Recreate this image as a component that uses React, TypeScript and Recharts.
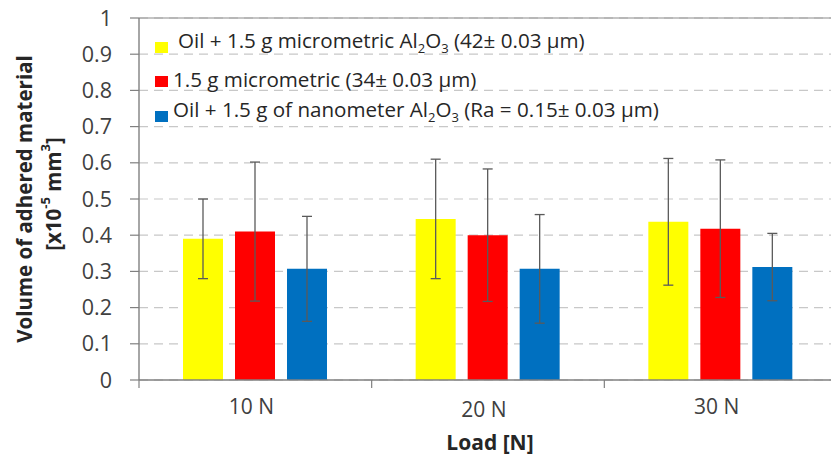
import React from 'react';
import { BarChart, Bar, XAxis, YAxis, CartesianGrid, ErrorBar, Legend, ReferenceLine } from 'recharts';

const categories = ['10 N', '20 N', '30 N'];
const yellowValues = [0.39, 0.445, 0.437];
const yellowErrors = [0.11, 0.165, 0.175];
const redValues = [0.41, 0.4, 0.418];
const redErrors = [0.192, 0.183, 0.19];
const blueValues = [0.307, 0.307, 0.312];
const blueErrors = [0.145, 0.15, 0.093];
const yTicks = [0, 0.1, 0.2, 0.3, 0.4, 0.5, 0.6, 0.7, 0.8, 0.9, 1];

const seriesNames = ['yellow', 'red', 'blue'];
const seriesColors = ['#FFFF00', '#FF0000', '#0070C0'];

const data = categories.map((c, i) => ({
  name: c,
  yellow: yellowValues[i],
  yellowErr: yellowErrors[i],
  red: redValues[i],
  redErr: redErrors[i],
  blue: blueValues[i],
  blueErr: blueErrors[i],
}));

const CHART_W = 837;
const CHART_H = 457;
const Y_AXIS_W = 139;
const X_AXIS_H = 77;
const FONT = '"Open Sans", sans-serif';
const TEXT_COLOR = '#404040';

const XTick = (props: any) => {
  const { x, y, payload, index } = props;
  const half = payload && payload.offset ? payload.offset : (CHART_W - Y_AXIS_W) / categories.length / 2;
  return (
    <g>
      <line x1={x - half} y1={y} x2={x - half} y2={y + 8} stroke="#808080" strokeWidth={1.2} />
      {index === categories.length - 1 ? (
        <line x1={x + half} y1={y} x2={x + half} y2={y + 8} stroke="#808080" strokeWidth={1.2} />
      ) : null}
      <text x={x - 4} y={y + 34 + (index === 1 ? 3 : 0)} textAnchor="middle" fontFamily={FONT} fontSize={21} fill={TEXT_COLOR}>
        {payload.value}
      </text>
    </g>
  );
};

const YLabel = (props: any) => {
  const vb = props.viewBox || {};
  const cy = (vb.y || 0) + (vb.height || 0) / 2;
  return (
    <g fontFamily={FONT} fontWeight="bold" fontSize={20.5} fill="#262626">
      <text x={24} y={cy} transform={`rotate(-90, 24, ${cy})`} textAnchor="middle" dominantBaseline="central">
        Volume of adhered material
      </text>
      <text x={53} y={cy - 5} transform={`rotate(-90, 53, ${cy - 5})`} textAnchor="middle" dominantBaseline="central">
        [x10
        <tspan dy={-8} fontSize={13}>-5</tspan>
        <tspan dy={8}> mm</tspan>
        <tspan dy={-8} fontSize={13}>3</tspan>
        <tspan dy={8}>]</tspan>
      </text>
    </g>
  );
};

const XLabel = (props: any) => {
  const vb = props.viewBox || {};
  const cx = (vb.x || 0) + (vb.width || 0) / 2;
  return (
    <text x={cx + 2} y={(vb.y || 0) + 70} textAnchor="middle" fontFamily={FONT} fontWeight="bold" fontSize={21} fill="#262626">
      Load [N]
    </text>
  );
};

const subStyle = { fontSize: 13 };
const legendLabels: React.ReactNode[] = [
  <span>Oil + 1.5 g micrometric Al<sub style={subStyle}>2</sub>O<sub style={subStyle}>3</sub> (42± 0.03 µm)</span>,
  <span>1.5 g micrometric (34± 0.03 µm)</span>,
  <span>Oil + 1.5 g of nanometer Al<sub style={subStyle}>2</sub>O<sub style={subStyle}>3</sub> (Ra = 0.15± 0.03 µm)</span>,
];

const renderLegend = () => (
  <div style={{ fontFamily: FONT, fontSize: 20.6, color: '#262626', lineHeight: '24px' }}>
    {seriesNames.map((s, i) => (
      <div key={s} style={{ display: 'flex', alignItems: 'center', height: 34.5, whiteSpace: 'nowrap' }}>
        <span style={{ display: 'inline-block', width: 13, height: 11, background: seriesColors[i], marginRight: i === 0 ? 10 : 5, marginTop: 6 }} />
        {legendLabels[i]}
      </div>
    ))}
  </div>
);

export default function App() {
  return (
    <div style={{ position: 'fixed', left: 0, top: 0, width: 831, height: 457, overflow: 'hidden', background: '#fff' }}>
      <BarChart
        width={CHART_W}
        height={CHART_H}
        data={data}
        margin={{ top: 18, right: 0, left: 0, bottom: 0 }}
        barSize={40}
        barGap={12}
      >
        <CartesianGrid vertical={false} stroke="#c8c8c8" strokeDasharray="9 6" strokeWidth={1.2} />
        <ReferenceLine y={1} stroke="#8c8c8c" strokeWidth={1.2} />
        <XAxis
          dataKey="name"
          height={X_AXIS_H}
          tickLine={false}
          tickSize={0}
          tickMargin={0}
          axisLine={{ stroke: '#808080', strokeWidth: 1.4 }}
          tick={<XTick />}
          interval={0}
          label={<XLabel />}
        />
        <YAxis
          width={Y_AXIS_W}
          domain={[0, 1]}
          ticks={yTicks}
          interval={0}
          tickSize={9}
          tickMargin={18}
          tickLine={{ stroke: '#808080', strokeWidth: 1.2 }}
          axisLine={{ stroke: '#808080', strokeWidth: 1.4 }}
          tick={{ fontFamily: FONT, fontSize: 21.5, fill: TEXT_COLOR }}
          label={<YLabel />}
        />
        <Legend
          layout="vertical"
          align="center"
          verticalAlign="middle"
          content={renderLegend}
          wrapperStyle={{ top: 27, left: 155, width: 'auto' }}
        />
        {seriesNames.map((s, i) => (
          <Bar key={s} dataKey={s} fill={seriesColors[i]} isAnimationActive={false}>
            <ErrorBar dataKey={`${s}Err`} width={5} stroke="#5a5a5a" strokeWidth={1.3} direction="y" />
          </Bar>
        ))}
      </BarChart>
    </div>
  );
}
